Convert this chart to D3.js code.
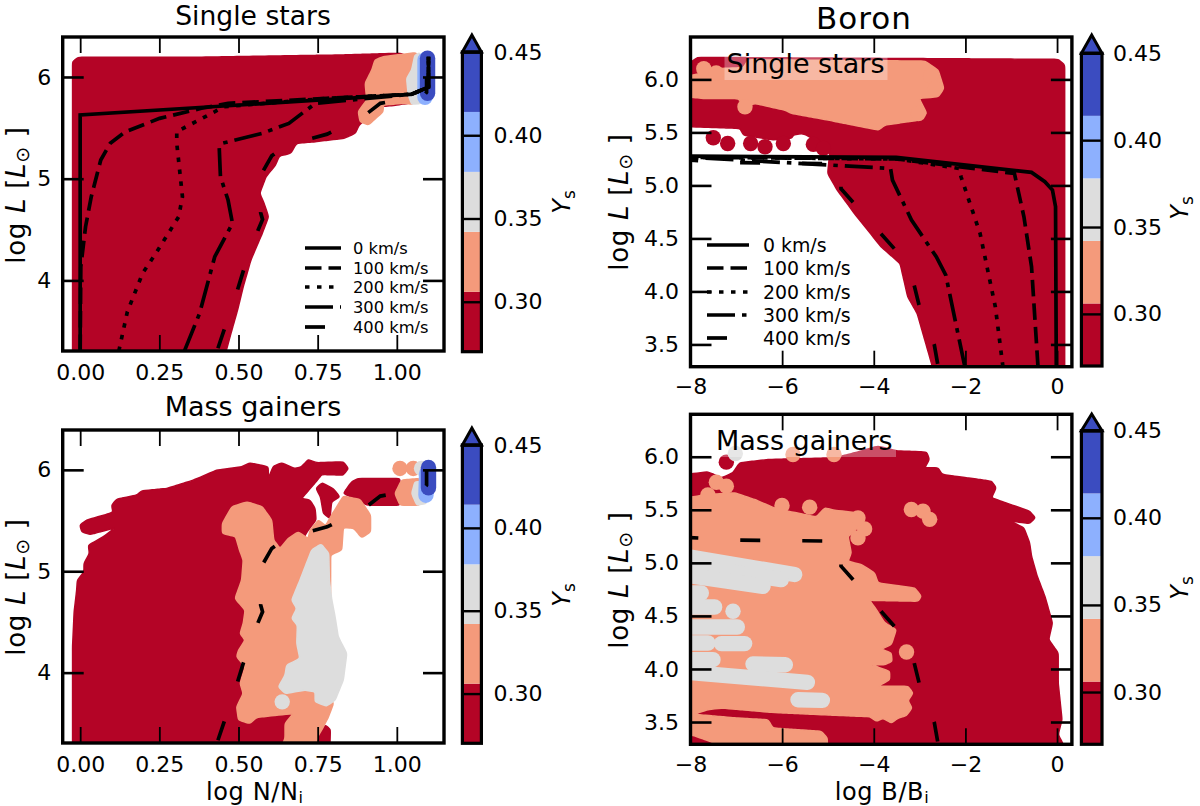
<!DOCTYPE html>
<html>
<head>
<meta charset="utf-8">
<script src="https://cdn.jsdelivr.net/npm/d3@7"></script>
<style>
  html, body { margin: 0; padding: 0; background: #fff; }
  svg { display: block; }
  text { font-family: "DejaVu Sans"; fill: #000; }
</style>
</head>
<body>
<div id="chart"></div>
<script>
// Ys colour bins
const ysLevels = [0.27, 0.306, 0.342, 0.378, 0.414, 0.45];
const ysColors = ['#b40426', '#f49a7b', '#dddddd', '#8db0fe', '#3b4cc0'];
const ysTicks = [0.30, 0.35, 0.40, 0.45];
const velocityLabels = ['0 km/s', '100 km/s', '200 km/s', '300 km/s', '400 km/s'];

// ---------- log N/Ni, single stars ----------
const nSingleRed = [[-.024,3.2],[-.024,6.151],[-.007,6.193],[.347,6.193],[.82,6.216],[1.01,6.233],[1.04,6.2],[1.04,5.74],[1.019,5.734],[.995,5.721],[.947,5.708],[.881,5.528],[.869,5.446],[.833,5.397],[.743,5.364],[.683,5.348],[.665,5.249],[.629,5.223],[.617,5.134],[.587,5.02],[.567,4.856],[.581,4.757],[.595,4.626],[.575,4.462],[.539,4.2],[.515,3.938],[.497,3.708],[.479,3.511],[.461,3.305],[.44,3.2]];
const nSingleSalmon = [[.931,6.167],[.957,6.2],[1.063,6.239],[1.052,5.731],[1.026,5.741],[.957,5.725],[.957,5.659],[.91,5.528],[.884,5.561],[.878,5.659],[.905,5.774],[.9,5.938],[.921,6.069]];
const nSingleGray = [[1.057,6.216],[1.073,6.239],[1.079,5.741],[1.047,5.731],[1.036,5.823],[1.031,5.987],[1.047,6.069]];
const nSingleLightBlueTrack = [[1.089,6.167],[1.089,5.8]];
const nSingleBlueTrack = [[1.097,6.184],[1.097,5.839]];

const nLine0 = [[0,3.305],[0,5.626],[1.047,5.83],[1.1,5.9],[1.1,6.2]];
const nLine100 = [[0,3.305],[.002,4.134],[.017,4.528],[.035,4.823],[.065,5.184],[.095,5.348],[.143,5.462],[.251,5.593],[.383,5.692],[.467,5.741],[.779,5.79],[1.047,5.83],[1.1,5.9],[1.1,6.2]];
const nLine200 = [[.122,3.305],[.149,3.692],[.197,4.069],[.239,4.266],[.311,4.626],[.323,4.823],[.305,5.348],[.305,5.462],[.455,5.708],[.779,5.79],[1.047,5.83],[1.1,5.9],[1.1,6.2]];
const nLine300 = [[.329,3.305],[.377,3.675],[.425,4.233],[.481,4.561],[.467,4.79],[.443,5.02],[.439,5.315],[.449,5.348],[.575,5.446],[.659,5.544],[.743,5.741],[1.047,5.83],[1.1,5.9],[1.1,6.2]];
const nLine400 = [[.432,3.305],[.497,3.909],[.515,4.091],[.561,4.488],[.576,4.6],[.57,4.666],[.575,5.06],[.605,5.225],[.663,5.356],[.722,5.389],[.78,5.438],[.897,5.619],[.948,5.741],[1.086,5.817],[1.094,5.849],[1.094,5.99]];

// ---------- log N/Ni, mass gainers ----------
const nGainerRed = [[-.024,3.2],[-.024,4.259],[-.019,4.6],[-.011,4.814],[-.009,4.912],[.012,4.994],[.012,5.077],[.029,5.175],[.026,5.257],[.073,5.34],[.11,5.428],[.031,5.362],[.005,5.389],[-.001,5.455],[.02,5.504],[.104,5.58],[.099,5.652],[.115,5.711],[.178,5.75],[.194,5.793],[.273,5.816],[.357,5.898],[.431,5.997],[.51,6.03],[.536,6.069],[.594,6.03],[.594,5.915],[.61,6.036],[.636,6.069],[.678,6.013],[.699,6.03],[.72,6.102],[.747,6.07],[.831,6.079],[.847,6.014],[.831,5.948],[.763,5.954],[.745,5.882],[.699,5.718],[.726,5.701],[.742,5.619],[.745,5.504],[.72,5.405],[.683,5.21],[.587,4.718],[.539,3.603],[.683,3.603],[.659,3.2]];
const nGainerRedBlob = [[.745,5.816],[.763,5.872],[.799,5.816],[.82,5.734],[.794,5.685],[.789,5.52],[.768,5.57],[.759,5.734]];
const nGainerRedStrip = [[.831,5.767],[.857,5.882],[.878,5.915],[1.01,5.915],[1.01,5.652],[.905,5.652],[.868,5.718]];
const nGainerRedSliver = [[.76,3.44],[.775,3.482],[.79,3.44],[.788,3.2],[.74,3.2]];
const nGainerSalmon = [[.449,5.472],[.479,5.636],[.527,5.685],[.575,5.636],[.605,5.505],[.611,5.308],[.631,5.225],[.657,5.323],[.689,5.389],[.72,5.323],[.726,5.405],[.752,5.504],[.775,5.45],[.794,5.553],[.831,5.741],[.884,5.708],[.917,5.553],[.917,5.389],[.889,5.33],[.865,5.422],[.831,5.432],[.826,5.208],[.791,5.161],[.79,3.75],[.8,3.696],[.784,3.564],[.768,3.465],[.747,3.35],[.745,3.2],[.625,3.2],[.647,3.35],[.647,3.498],[.673,3.597],[.557,3.558],[.536,3.498],[.5,3.531],[.494,3.663],[.515,3.794],[.505,3.893],[.521,4.057],[.494,4.156],[.5,4.222],[.521,4.32],[.505,4.386],[.515,4.485],[.521,4.616],[.489,4.731],[.51,4.912],[.515,5.111],[.503,5.21],[.491,5.341],[.449,5.374]];
const nGainerSalmonTip = [[.994,5.767],[1.015,5.899],[1.073,5.915],[1.073,5.652],[1.01,5.652]];
const nGainerSalmonDots = [[1.01,6.014],[1.052,6.014]];
const nGainerGray = [[.761,5.269],[.785,5.177],[.787,4.912],[.794,4.731],[.805,4.55],[.815,4.353],[.842,4.189],[.831,3.926],[.805,3.728],[.778,3.669],[.742,3.712],[.742,3.811],[.71,3.827],[.647,3.794],[.626,3.86],[.647,3.975],[.652,4.074],[.694,4.139],[.684,4.287],[.686,4.468],[.668,4.534],[.684,4.633],[.668,4.715],[.694,4.912],[.731,5.21]];
const nGainerGrayTip = [[1.057,5.882],[1.084,5.882],[1.094,5.668],[1.063,5.652],[1.047,5.767]];
const nGainerGrayDots = [[.638,3.712],[1.078,6.014]];
const nGainerLightBlueTrack = [[1.094,5.964],[1.092,5.75]];
const nGainerBlueTrack = [[1.1,6.023],[1.1,5.823]];

// ---------- log B/Bi, single stars ----------
const bSingleRed = [[-8.1,6.15],[-7.96,6.17],[-7.85,6.208],[.025,6.189],[.166,6.135],[.166,3.2],[-2.69,3.2],[-2.719,3.289],[-2.886,3.541],[-3.052,3.792],[-3.26,3.95],[-3.426,4.264],[-3.842,4.421],[-4.424,4.736],[-4.798,4.956],[-5.006,5.113],[-4.955,5.333],[-5.465,5.475],[-5.574,5.49],[-5.756,5.475],[-5.792,5.443],[-6.2,5.43],[-6.847,5.475],[-6.92,5.538],[-7.96,5.553],[-8.1,5.553]];
const bSingleRedDots = [[-7.502,5.449],[-7.189,5.396],[-6.687,5.396],[-6.374,5.365],[-5.974,5.396],[-5.319,5.387],[-5.1,5.349]];
const bSingleSalmon = [[-8.1,6.025],[-7.32,6.104],[-6.847,6.11],[-6.738,6.185],[-2.882,6.173],[-2.595,6.088],[-2.47,5.915],[-2.595,5.836],[-3.01,5.821],[-2.844,5.679],[-3.01,5.616],[-3.755,5.569],[-3.9,5.522],[-4.992,5.616],[-5.792,5.679],[-5.938,5.71],[-6.592,5.773],[-6.811,5.742],[-6.956,5.82],[-7.683,5.82],[-8.1,5.836]];
const bSingleSalmonDots = [[-7.71,6.1],[-7.44,6.06],[-2.761,6.031],[-2.661,5.915],[-3.027,5.679],[-6.811,5.742]];

const bLine0 = [[-.017,3.289],[-.033,4.799],[-.1,4.956],[-.266,5.035],[-.557,5.123],[-3.509,5.264],[-8,5.277]];
const bLine100 = [[-.416,3.289],[-.557,4.233],[-.723,4.704],[-.931,5.113],[-3.509,5.25],[-8,5.265]];
const bLine200 = [[-1.181,3.289],[-1.347,3.855],[-1.68,4.547],[-2.096,5.082],[-2.137,5.16],[-3.509,5.25],[-8,5.265]];
const bLine300 = [[-2.012,3.289],[-2.179,3.635],[-2.428,4.154],[-2.636,4.327],[-3.177,4.673],[-3.592,5.05],[-3.634,5.16],[-8,5.265]];
const bLine400 = [[-2.594,3.289],[-2.678,3.494],[-3.01,3.868],[-3.118,4.057],[-3.551,4.403],[-4.424,4.827],[-4.715,4.969],[-4.715,5.204],[-6.96,5.215],[-8.1,5.24]];

// ---------- log B/Bi, mass gainers ----------
const bGainerRed = [[-8.1,5.833],[-7.618,5.858],[-7.327,5.801],[-7.073,5.849],[-6.927,5.943],[-6.309,5.974],[-4.854,5.99],[-4.417,6.037],[-3.908,6.1],[-3.472,6.053],[-3.343,6.053],[-2.844,6.044],[-2.786,5.975],[-2.886,5.896],[-2.595,5.896],[-2.511,5.833],[-1.43,5.77],[-1.33,5.708],[-1.43,5.613],[-.599,5.487],[-.474,5.425],[-.599,5.371],[-1.015,5.393],[-.724,5.33],[-.599,5.189],[-.557,5.063],[-.433,4.874],[-.266,4.686],[-.1,4.434],[-.183,4.277],[.025,4.151],[.025,3.868],[.108,3.522],[.025,3.381],[.133,3.292],[.133,3.2],[-8.1,3.2]];
const bGainerRedDots = [[-7.218,5.949]];
const bGainerSalmon = [[-8.1,5.613],[-7.618,5.644],[-7.036,5.66],[-6.6,5.597],[-6.09,5.503],[-5.872,5.487],[-5.254,5.433],[-5.072,5.518],[-4.854,5.496],[-4.345,5.471],[-4.236,5.393],[-4.454,5.282],[-4.563,5.251],[-4.491,5.094],[-4.563,5.015],[-4.272,4.984],[-3.981,4.905],[-3.908,4.811],[-3.108,4.764],[-2.962,4.685],[-3.035,4.638],[-4.09,4.647],[-3.944,4.559],[-3.762,4.434],[-3.508,4.371],[-3.617,4.229],[-3.835,4.188],[-3.617,4.15],[-3.602,4.072],[-3.762,4.04],[-4.053,4.04],[-3.654,3.978],[-3.654,3.899],[-3.908,3.836],[-3.253,3.836],[-3.144,3.773],[-3.253,3.701],[-3.166,3.632],[-3.29,3.559],[-3.471,3.537],[-3.617,3.49],[-3.799,3.537],[-3.944,3.506],[-4.09,3.553],[-4.272,3.553],[-5.145,3.569],[-6.236,3.591],[-7.327,3.632],[-7.618,3.616],[-7.836,3.585],[-8.1,3.585]];
const bGainerSalmonLow = [[-8.1,3.616],[-7.945,3.616],[-7.836,3.569],[-6.963,3.537],[-6.309,3.522],[-6.2,3.443],[-5.145,3.412],[-5.014,3.349],[-5.014,3.2],[-7.3,3.2],[-7.509,3.308],[-7.945,3.374],[-8.1,3.38]];
const bGainerSalmonDots = [[-5.763,6.021],[-4.868,6.021],[-5.399,5.525],[-6.003,5.54],[-7.436,5.76],[-7.218,5.723],[-7.62,5.64],[-4.345,5.235],[-4.2,5.32],[-4.345,5.424],[-3.18,5.503],[-2.926,5.487],[-2.78,5.41],[-3.285,4.16]];
const bGainerGrayDots = [[-7.022,6.031],[-7.072,4.544]];
const bGainerGrayTracks = [
  [[-8.1,5.06],[-5.727,4.89]],
  [[-8.1,4.978],[-6.018,4.842]],
  [[-8.1,4.884],[-6.418,4.779]],
  [[-8.1,4.716],[-7.764,4.716]],
  [[-8.1,4.584],[-7.473,4.584]],
  [[-8.1,4.396],[-6.978,4.396]],
  [[-8.1,4.245],[-7.618,4.245]],
  [[-7.327,4.239],[-6.818,4.239]],
  [[-8.1,4.088],[-7.509,4.088]],
  [[-6.636,4.047],[-5.93,4.04]],
  [[-8.1,3.97],[-5.45,3.874]],
  [[-5.654,3.71],[-5.122,3.704]]
];

const nDomain = [-0.0552, 1.149];
const bDomain = [-8.0, 0.324];
const nTicks = [0, 0.25, 0.5, 0.75, 1];
const bTicks = [-8, -6, -4, -2, 0];
const lTicksN = [4, 5, 6];
const lTicksB = [3.5, 4, 4.5, 5, 5.5, 6];

const dashes = {
  solid: null,
  dashed: '16.5 7',
  dotted: '4.5 7.5',
  dashdot: '28 7 4.5 7',
  long: '20 42'
};

const width = 1200;
const height = 806;
const dotRadius = 7.7;
const lineW = 3.7;

const svg = d3.select('#chart').append('svg')
  .attr('width', width)
  .attr('height', height);
const defs = svg.append('defs');

// the scatter blobs have soft edges: split long sides so the spline only rounds the corners
const blobLine = d3.line().curve(d3.curveBasisClosed);
function splitSides(pts, step) {
  const out = [];
  pts.forEach((p, i) => {
    const q = pts[(i + 1) % pts.length];
    const n = Math.max(1, Math.ceil(Math.hypot(q[0] - p[0], q[1] - p[1]) / step));
    for (let k = 0; k < n; k += 1) {
      out.push([p[0] + ((q[0] - p[0]) * k) / n, p[1] + ((q[1] - p[1]) * k) / n]);
    }
  });
  return out;
}

function mathLabel(sel, parts) {
  parts.forEach((p) => {
    const t = sel.append('tspan').text(p.t);
    if (p.i) t.attr('font-style', 'italic');
    if (p.sub) t.attr('font-size', p.sub).attr('dy', p.dy);
    if (p.up) t.attr('dy', p.up);
  });
}

function drawPanel(cfg) {
  const x = d3.scaleLinear().domain(cfg.xDomain).range([cfg.left, cfg.right]);
  const y = d3.scaleLinear().domain(cfg.yDomain).range([cfg.bottom, cfg.top]);
  const toPx = (pts) => pts.map((d) => [x(d[0]), y(d[1])]);

  defs.append('clipPath').attr('id', cfg.id)
    .append('rect')
    .attr('x', cfg.left)
    .attr('y', cfg.top)
    .attr('width', cfg.right - cfg.left)
    .attr('height', cfg.bottom - cfg.top);

  const plot = svg.append('g').attr('clip-path', `url(#${cfg.id})`);

  // filled bins, in draw order
  cfg.layers.forEach((layer) => {
    (layer.polys || []).forEach((poly) => {
      plot.append('path')
        .attr('d', blobLine(splitSides(toPx(poly), 4)))
        .attr('fill', ysColors[layer.bin])
        .attr('stroke', ysColors[layer.bin])
        .attr('stroke-width', 1.5)
        .attr('stroke-linejoin', 'round');
    });
    (layer.tracks || []).forEach((track) => {
      plot.append('path')
        .attr('d', d3.line()(toPx(track)))
        .attr('fill', 'none')
        .attr('stroke', ysColors[layer.bin])
        .attr('stroke-width', dotRadius * 2)
        .attr('stroke-linecap', 'round')
        .attr('stroke-linejoin', 'round');
    });
    plot.selectAll(null)
      .data(layer.dots || [])
      .enter()
      .append('circle')
      .attr('cx', (d) => x(d[0]))
      .attr('cy', (d) => y(d[1]))
      .attr('r', dotRadius)
      .attr('fill', ysColors[layer.bin]);
  });

  // velocity tracks
  (cfg.lines || []).forEach((ln) => {
    plot.append('path')
      .attr('d', d3.line()(toPx(ln.data)))
      .attr('fill', 'none')
      .attr('stroke', '#000')
      .attr('stroke-width', lineW)
      .attr('stroke-dasharray', ln.dash)
      .attr('stroke-dashoffset', ln.dash === dashes.long ? -3 : 0);
  });

  // text inside the axes, with its half transparent box
  if (cfg.inset) {
    svg.append('rect')
      .attr('x', cfg.inset.x - 2)
      .attr('y', cfg.inset.y - 21)
      .attr('width', cfg.inset.w)
      .attr('height', 28)
      .attr('fill', '#fff')
      .attr('fill-opacity', 0.3);
    svg.append('text')
      .attr('x', cfg.inset.x)
      .attr('y', cfg.inset.y)
      .attr('font-size', 27)
      .text(cfg.inset.text);
  }

  // axes, ticks point inwards on all four sides
  const styleAxis = (g) => {
    g.select('.domain').remove();
    g.selectAll('.tick text').attr('font-size', 22).attr('fill', '#000').attr('font-family', 'DejaVu Sans');
  };
  const xAxis = d3.axisBottom(x).tickValues(cfg.xTicks).tickFormat(d3.format(cfg.xFormat)).tickSizeInner(-16).tickSizeOuter(0).tickPadding(cfg.xPad);
  svg.append('g').attr('transform', `translate(0,${cfg.bottom})`).call(xAxis).call(styleAxis)
    .selectAll('.tick line').attr('stroke', '#000').attr('stroke-width', 1.8);
  svg.append('g').attr('transform', `translate(0,${cfg.top})`)
    .call(d3.axisTop(x).tickValues(cfg.xTicks).tickFormat('').tickSizeInner(-16).tickSizeOuter(0)).call(styleAxis)
    .selectAll('.tick line').attr('stroke', '#000').attr('stroke-width', 1.8);
  const yAxis = d3.axisLeft(y).tickValues(cfg.yTicks).tickFormat(d3.format(cfg.yFormat)).tickSizeInner(-21).tickSizeOuter(0).tickPadding(11.5);
  svg.append('g').attr('transform', `translate(${cfg.left},0)`).call(yAxis).call(styleAxis)
    .selectAll('.tick line').attr('stroke', '#000').attr('stroke-width', 2.6);
  svg.append('g').attr('transform', `translate(${cfg.right},0)`)
    .call(d3.axisRight(y).tickValues(cfg.yTicks).tickFormat('').tickSizeInner(-21).tickSizeOuter(0)).call(styleAxis)
    .selectAll('.tick line').attr('stroke', '#000').attr('stroke-width', 2.6);

  svg.append('rect')
    .attr('x', cfg.left)
    .attr('y', cfg.top)
    .attr('width', cfg.right - cfg.left)
    .attr('height', cfg.bottom - cfg.top)
    .attr('fill', 'none')
    .attr('stroke', '#000')
    .attr('stroke-width', 3.4);

  // titles and labels
  if (cfg.title) {
    svg.append('text')
      .attr('x', cfg.title.x)
      .attr('y', cfg.title.y)
      .attr('text-anchor', 'middle')
      .attr('font-size', cfg.title.size)
      .attr('letter-spacing', cfg.title.spacing || 0)
      .text(cfg.title.text);
  }
  svg.append('text')
    .attr('transform', `translate(${cfg.yLabel.x},${cfg.yLabel.y}) rotate(-90)`)
    .attr('text-anchor', 'middle')
    .attr('font-size', 26)
    .attr('letter-spacing', 0.7)
    .call(mathLabel, [
      { t: 'log ' }, { t: 'L', i: true }, { t: ' [' }, { t: 'L', i: true },
      { t: '⊙', sub: 19, dy: 4 }, { t: ' ]', up: -4 }
    ]);
  if (cfg.xLabel) {
    svg.append('text')
      .attr('x', cfg.xLabel.x)
      .attr('y', cfg.xLabel.y)
      .attr('text-anchor', 'middle')
      .attr('font-size', 24)
      .attr('letter-spacing', 0.6)
      .call(mathLabel, [{ t: cfg.xLabel.text }, { t: 'i', sub: 16, dy: 3 }]);
  }

  // colour bar
  const c = cfg.bar;
  const cy = d3.scaleLinear().domain([ysLevels[0], ysLevels[ysLevels.length - 1]]).range([c.bottom, c.top]);
  svg.selectAll(null)
    .data(ysColors)
    .enter()
    .append('rect')
    .attr('x', c.left)
    .attr('width', c.right - c.left)
    .attr('y', (d, i) => cy(ysLevels[i + 1]))
    .attr('height', (d, i) => cy(ysLevels[i]) - cy(ysLevels[i + 1]))
    .attr('fill', (d) => d);
  svg.append('path')
    .attr('d', `M${c.left},${c.top}L${(c.left + c.right) / 2},${c.tip}L${c.right},${c.top}Z`)
    .attr('fill', ysColors[4])
    .attr('stroke', '#000')
    .attr('stroke-width', 3);
  svg.append('rect')
    .attr('x', c.left)
    .attr('y', c.top)
    .attr('width', c.right - c.left)
    .attr('height', c.bottom - c.top)
    .attr('fill', 'none')
    .attr('stroke', '#000')
    .attr('stroke-width', 3.2);
  const barAxis = d3.axisRight(cy).tickValues(ysTicks).tickFormat(d3.format('.2f'))
    .tickSizeInner(-(c.right - c.left)).tickSizeOuter(0).tickPadding(c.pad);
  svg.append('g').attr('transform', `translate(${c.right},0)`).call(barAxis).call(styleAxis)
    .selectAll('.tick line').attr('stroke', '#000').attr('stroke-width', 2.4);
  svg.append('text')
    .attr('transform', `translate(${c.labelX},${c.labelY}) rotate(-90)`)
    .attr('text-anchor', 'middle')
    .attr('font-size', 24)
    .call(mathLabel, [{ t: 'Y', i: true }, { t: 's', sub: 17, dy: 5 }]);

  // legend
  if (cfg.legend) {
    const lg = cfg.legend;
    velocityLabels.forEach((label, i) => {
      svg.append('line')
        .attr('x1', lg.x1)
        .attr('x2', lg.x2)
        .attr('y1', lg.rows[i])
        .attr('y2', lg.rows[i])
        .attr('stroke', '#000')
        .attr('stroke-width', lineW)
        .attr('stroke-dasharray', [dashes.solid, dashes.dashed, dashes.dotted, dashes.dashdot, dashes.long][i]);
      svg.append('text')
        .attr('x', lg.textX)
        .attr('y', lg.rows[i])
        .attr('dy', '0.36em')
        .attr('font-size', lg.size)
        .text(label);
    });
  }
}

drawPanel({
  id: 'clip-n-single',
  left: 62.7, right: 444, top: 37, bottom: 351,
  xDomain: nDomain, yDomain: [3.306, 6.393],
  xTicks: nTicks, xFormat: '.2f', xPad: 13,
  yTicks: lTicksN, yFormat: 'd',
  layers: [
    { bin: 0, polys: [nSingleRed] },
    { bin: 1, polys: [nSingleSalmon] },
    { bin: 2, polys: [nSingleGray] },
    { bin: 3, tracks: [nSingleLightBlueTrack] },
    { bin: 4, tracks: [nSingleBlueTrack] }
  ],
  lines: [
    { data: nLine0, dash: dashes.solid },
    { data: nLine100, dash: dashes.dashed },
    { data: nLine200, dash: dashes.dotted },
    { data: nLine300, dash: dashes.dashdot },
    { data: nLine400, dash: dashes.long }
  ],
  title: { text: 'Single stars', x: 253, y: 24.8, size: 26.6 },
  yLabel: { x: 24.5, y: 195 },
  bar: { left: 462.4, right: 481.4, top: 52, bottom: 351.7, tip: 35, pad: 12, labelX: 570, labelY: 202 },
  legend: { x1: 305, x2: 341, textX: 353, size: 16.3, rows: [248, 268, 287, 307, 327] }
});

drawPanel({
  id: 'clip-b-single',
  left: 690.5, right: 1071.9, top: 37, bottom: 366.7,
  xDomain: bDomain, yDomain: [3.29, 6.4],
  xTicks: bTicks, xFormat: 'd', xPad: 12,
  yTicks: lTicksB, yFormat: '.1f',
  layers: [
    { bin: 0, polys: [bSingleRed], dots: bSingleRedDots },
    { bin: 1, polys: [bSingleSalmon], dots: bSingleSalmonDots }
  ],
  lines: [
    { data: bLine0, dash: dashes.solid },
    { data: bLine100, dash: dashes.dashed },
    { data: bLine200, dash: dashes.dotted },
    { data: bLine300, dash: dashes.dashdot },
    { data: bLine400, dash: dashes.long }
  ],
  inset: { text: 'Single stars', x: 726.5, y: 73, w: 163 },
  title: { text: 'Boron', x: 864, y: 29, size: 31, spacing: 1 },
  yLabel: { x: 628, y: 202 },
  bar: { left: 1081.4, right: 1102, top: 53.3, bottom: 366, tip: 35, pad: 11, labelX: 1188, labelY: 208 },
  legend: { x1: 707, x2: 749, textX: 763, size: 18.9, rows: [245, 268, 292, 315, 338] }
});

drawPanel({
  id: 'clip-n-gainer',
  left: 62.7, right: 444, top: 430, bottom: 743,
  xDomain: nDomain, yDomain: [3.306, 6.393],
  xTicks: nTicks, xFormat: '.2f', xPad: 13,
  yTicks: lTicksN, yFormat: 'd',
  layers: [
    { bin: 0, polys: [nGainerRed, nGainerRedBlob, nGainerRedStrip, nGainerRedSliver] },
    { bin: 1, polys: [nGainerSalmon, nGainerSalmonTip], dots: nGainerSalmonDots },
    { bin: 2, polys: [nGainerGray, nGainerGrayTip], dots: nGainerGrayDots },
    { bin: 3, tracks: [nGainerLightBlueTrack] },
    { bin: 4, tracks: [nGainerBlueTrack] }
  ],
  lines: [{ data: nLine400, dash: dashes.long }],
  title: { text: 'Mass gainers', x: 253, y: 416, size: 27 },
  yLabel: { x: 24.5, y: 587 },
  xLabel: { text: 'log N/N', x: 254.8, y: 799.5 },
  bar: { left: 462.4, right: 481.4, top: 445, bottom: 743.3, tip: 428, pad: 12, labelX: 570, labelY: 595 }
});

drawPanel({
  id: 'clip-b-gainer',
  left: 690.5, right: 1071.9, top: 414.3, bottom: 744.3,
  xDomain: bDomain, yDomain: [3.29, 6.4],
  xTicks: bTicks, xFormat: 'd', xPad: 12,
  yTicks: lTicksB, yFormat: '.1f',
  layers: [
    { bin: 0, polys: [bGainerRed], dots: bGainerRedDots },
    { bin: 1, polys: [bGainerSalmon, bGainerSalmonLow], dots: bGainerSalmonDots },
    { bin: 2, tracks: bGainerGrayTracks, dots: bGainerGrayDots }
  ],
  lines: [{ data: bLine400, dash: dashes.long }],
  inset: { text: 'Mass gainers', x: 716, y: 450, w: 182 },
  yLabel: { x: 628, y: 580 },
  xLabel: { text: 'log B/B', x: 882, y: 799.5 },
  bar: { left: 1081.4, right: 1102, top: 430.7, bottom: 744.3, tip: 414, pad: 11, labelX: 1188, labelY: 588 }
});
</script>
</body>
</html>
